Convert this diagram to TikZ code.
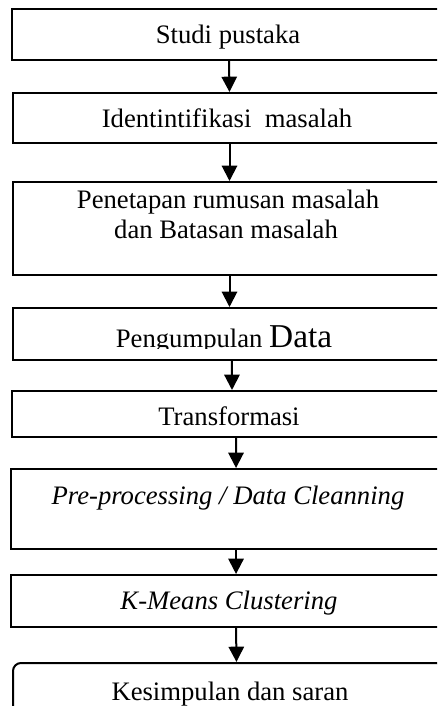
\documentclass[tikz,border=0pt]{standalone}
\usepackage{fontspec}
\setmainfont{Liberation Serif}[Ligatures=NoCommon]
\usetikzlibrary{arrows.meta,fit}

\begin{document}
\begin{tikzpicture}[x=0.75pt,y=-0.75pt,
  stepbox/.style={draw, line width=1.5pt, inner sep=0pt},
  lbl/.style={anchor=base, inner sep=0pt, font=\fontsize{20}{23}\selectfont},
  arr/.style={line width=1.5pt, -{Triangle[width=11.5pt,length=11.5pt]}}]

\useasboundingbox (0,0) rectangle (437,706);
\clip (0,0) rectangle (437,706);

% process boxes (the right side runs past the page edge)
\node[stepbox, fit={(12,9) (444,60)}] (b1) {};
\node[stepbox, fit={(13,93) (444,143)}] (b2) {};
\node[stepbox, fit={(13,182) (444,275)}] (b3) {};
\node[stepbox, fit={(13,308) (444,360)}] (b4) {};
\node[stepbox, fit={(12,391) (444,437)}] (b5) {};
\node[stepbox, fit={(11,469) (444,549)}] (b6) {};
\node[stepbox, fit={(11,575) (444,627)}] (b7) {};
\node[stepbox, rounded corners=6pt, fit={(13,663) (444,760)}] (b8) {};

% labels
\node[lbl] (t1) at (228,44) {Studi pustaka};
\node[lbl] (t2) at (227,128) {Identintifikasi\ \ masalah};
\node[lbl] (t3) at (228,208) {Penetapan rumusan masalah};
\node[lbl] (t3b) at (226,238) {dan Batasan masalah};
\begin{scope}
  \clip (0,0) rectangle (437,348);
  \node[lbl] (t4) at (224,347) {Pengumpulan {\fontsize{25}{25}\selectfont Data}};
\end{scope}
\node[lbl] (t5) at (229,425) {Transformasi};
\node[lbl] (t6) at (228,504) {\itshape Pre-processing / Data Cleanning};
\node[lbl] (t7) at (229,609) {\itshape K-Means Clustering};
\node[lbl] (t8) at (230,700) {Kesimpulan dan saran};

% flow arrows
\draw[arr] ([xshift=0.75pt]b1.south) -- ([xshift=0.75pt]b2.north);
\draw[arr] ([xshift=0.75pt]b2.south) -- ([xshift=0.75pt]b3.north);
\draw[arr] ([xshift=0.75pt]b3.south) -- ([xshift=0.75pt]b4.north);
\draw[arr] ([xshift=2.6pt]b4.south) -- ([xshift=3pt]b5.north);
\draw[arr] ([xshift=6pt]b5.south) -- ([xshift=6.4pt]b6.north);
\draw[arr] ([xshift=6.4pt]b6.south) -- ([xshift=6.4pt]b7.north);
\draw[arr] ([xshift=6.4pt]b7.south) -- ([xshift=6pt]b8.north);
\end{tikzpicture}
\end{document}
